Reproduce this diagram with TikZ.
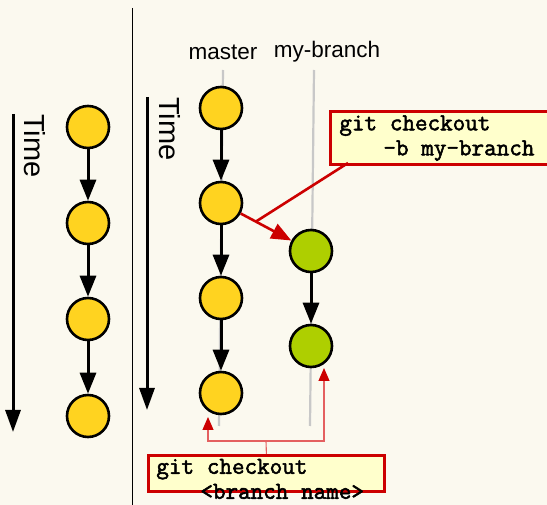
\documentclass[tikz,border=0pt]{standalone}
\usepackage{fontspec}
\setmainfont{Liberation Sans}
\newfontfamily\cmdfont{Latin Modern Mono}[FakeBold=2.2]
\newcommand\cellgap{\hspace*{0.525em}}
\usetikzlibrary{arrows.meta}
\definecolor{paper}{HTML}{FBF9EF}
\definecolor{gold}{HTML}{FFD320}
\definecolor{leaf}{HTML}{AECF00}
\definecolor{alert}{HTML}{CC0000}
\definecolor{softred}{HTML}{E46060}
\definecolor{note}{HTML}{FFFFCC}
\definecolor{rail}{HTML}{C8C8C8}
\tikzset{
  commit/.style={circle, draw=black, line width=2.6pt, fill=gold, minimum size=42pt, inner sep=0pt},
  branchcommit/.style={commit, fill=leaf},
  parent/.style={line width=3pt, -{Triangle[length=21pt,width=16pt]}},
  timeline/.style={line width=3pt, -{Triangle[length=22pt,width=15pt]}},
  timelabel/.style={font=\fontsize{29}{34}\selectfont, rotate=-90, inner sep=0pt},
  branchlabel/.style={font=\fontsize{22.5}{27}\selectfont, inner sep=0pt},
  rail/.style={draw=rail, line width=2.2pt},
  cmdbox/.style={draw=alert, line width=2.8pt, fill=note, align=left, anchor=north west,
    font=\cmdfont\fontsize{24.4}{25}\selectfont, inner xsep=9pt, inner ysep=4pt},
  pointer/.style={draw=alert, line width=2.6pt},
  thinpointer/.style={draw=softred, line width=1.1pt, -{Triangle[length=13pt,width=11pt,fill=alert,color=alert]}},
}
\begin{document}
\begin{tikzpicture}[x=1pt,y=-1pt]
  \useasboundingbox (0,0) rectangle (547,505);
  \clip (0,0) rectangle (547,505);
  \fill[paper] (0,0) rectangle (547,505);

  % left panel: a single line of history
  \coordinate (timeA0) at (13,114);
  \coordinate (timeA1) at (13,432);
  \draw[timeline] (timeA0) -- (timeA1);
  \node[timelabel] (timeA) at (35,146) {Time};
  \node[commit] (a1) at (88,127) {};
  \node[commit] (a2) at (88,223) {};
  \node[commit] (a3) at (88,319) {};
  \node[commit] (a4) at (88,416) {};
  \draw[parent] (a1) -- (a2);
  \draw[parent] (a2) -- (a3);
  \draw[parent] (a3) -- (a4);

  % separator
  \coordinate (sep0) at (132,8);
  \coordinate (sep1) at (132,505);
  \draw[line width=1pt] (sep0) -- (sep1);

  % right panel: master and my-branch
  \coordinate (timeB0) at (147,97);
  \coordinate (timeB1) at (147,410);
  \draw[timeline] (timeB0) -- (timeB1);
  \node[timelabel] (timeB) at (170,129) {Time};

  \node[branchlabel] (lmaster) at (223,52) {master};
  \node[branchlabel] (lbranch) at (327,52) {my-branch};

  \coordinate (railM0) at (223,70);
  \coordinate (railM1) at (219,426);
  \coordinate (railB0) at (314,70);
  \coordinate (railB1) at (310,426);
  \draw[rail] (railM0) -- (railM1);
  \draw[rail] (railB0) -- (railB1);

  \node[commit] (m1) at (221,108) {};
  \node[commit] (m2) at (221,203) {};
  \node[commit] (m3) at (221,298) {};
  \node[commit] (m4) at (221,393) {};
  \node[branchcommit] (g1) at (311,251) {};
  \node[branchcommit] (g2) at (311,346) {};
  \draw[parent] (m1) -- (m2);
  \draw[parent] (m2) -- (m3);
  \draw[parent] (m3) -- (m4);
  \draw[parent] (g1) -- (g2);
  \draw[pointer, -{Triangle[length=20pt,width=16pt]}] (m2) -- coordinate[pos=0.3] (fork1) (g1);

  % command callouts
  \node[cmdbox, text width=232pt] (cmdA) at (329,110)
    {git\cellgap checkout\\\hspace*{44pt}-b\cellgap my-branch};
  \coordinate (cmdAfoot) at (348,163);
  \draw[pointer] (cmdAfoot) -- (fork1);

  \node[cmdbox, text width=220pt, inner xsep=8pt, inner ysep=3.5pt, text depth=14pt] (cmdB) at (147,454)
    {git\cellgap checkout\\\hspace*{44pt}<branch\cellgap name>};
  \coordinate (fork2) at (266,441);
  \coordinate (tipL) at (208,417);
  \coordinate (tipR) at (324,368);
  \draw[draw=softred, line width=1.1pt] (cmdB.north) -- (fork2);
  \draw[thinpointer] (fork2) -| (tipL);
  \draw[thinpointer] (fork2) -| (tipR);
\end{tikzpicture}
\end{document}
